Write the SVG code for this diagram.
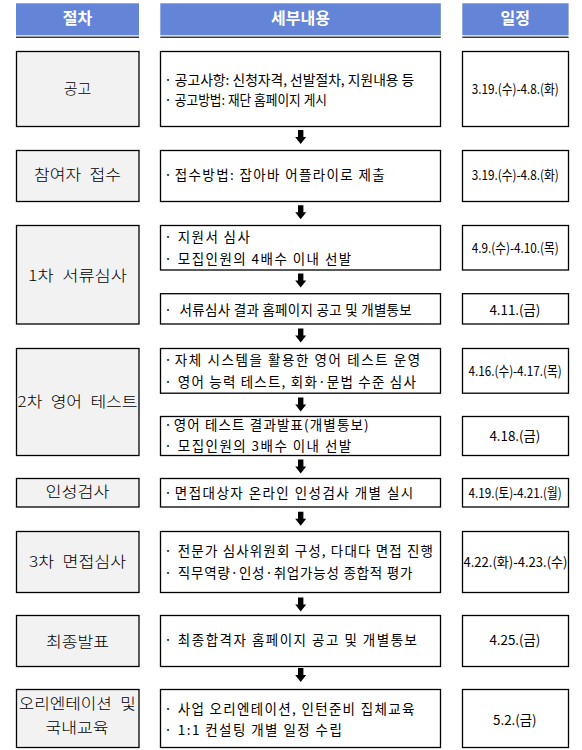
<svg xmlns="http://www.w3.org/2000/svg" xmlns:xlink="http://www.w3.org/1999/xlink" width="582" height="750" viewBox="0 0 582 750">
<style>
.hd{fill:#6484d8}
.hl{stroke:#3a3a3a;stroke-width:1.5}
.ht{font-family:"Noto Sans CJK KR","Noto Sans",sans-serif;font-size:16px;font-weight:700;fill:#fff;text-anchor:middle}
.lb{fill:#f2f2f2;stroke:#000;stroke-width:1.3}
.bx{fill:#fff;stroke:#000;stroke-width:1.3}
.lt{font-family:"Noto Sans CJK KR","Noto Sans",sans-serif;font-size:15px;font-weight:300;word-spacing:4px;fill:#000;text-anchor:middle}
.mt{font-family:"Noto Sans CJK KR","Noto Sans",sans-serif;font-size:13.5px;fill:#000}
.dot{font-family:"Noto Sans CJK KR","Noto Sans",sans-serif;font-size:13.5px;fill:#000;text-anchor:middle}
.rt{font-family:"Noto Sans CJK KR","Noto Sans",sans-serif;font-size:13.5px;fill:#000;text-anchor:middle}
</style>
<defs>
<path id="arr" d="M-2.7,0 H2.7 V7 H5.5 L0,14 L-5.5,7 H-2.7 Z" fill="#000"/>
</defs>
<rect width="582" height="750" fill="#fff"/>

<g id="header">
<rect class="hd" x="16" y="3.3" width="123" height="32"/>
<rect class="hd" x="160.3" y="3.3" width="280.5" height="32"/>
<rect class="hd" x="462.3" y="3.3" width="106.3" height="32"/>
<line class="hl" x1="16" y1="37.3" x2="139" y2="37.3"/>
<line class="hl" x1="160.3" y1="37.3" x2="440.8" y2="37.3"/>
<line class="hl" x1="462.3" y1="37.3" x2="568.6" y2="37.3"/>
<text class="ht" x="77.5" y="24.4">절차</text>
<text class="ht" x="300.5" y="24.4">세부내용</text>
<text class="ht" x="515.3" y="24.4">일정</text>
</g>

<g id="row-announce">
<rect class="lb" x="16.5" y="51.5" width="122.5" height="75"/>
<rect class="bx" x="160.5" y="51.5" width="280" height="75"/>
<rect class="bx" x="462.5" y="51.5" width="106" height="75"/>
<text class="lt" x="77.5" y="93.7">공고</text>
<text class="dot" x="168.1" y="85.3">·</text>
<text class="mt" x="174.8" y="85.3" textLength="239.5" lengthAdjust="spacingAndGlyphs">공고사항: 신청자격, 선발절차, 지원내용 등</text>
<text class="dot" x="168.1" y="105.3">·</text>
<text class="mt" x="174.8" y="105.3" textLength="152.2" lengthAdjust="spacingAndGlyphs">공고방법: 재단 홈페이지 게시</text>
<text class="rt" x="515.3" y="94.3" textLength="87" lengthAdjust="spacingAndGlyphs">3.19.(수)-4.8.(화)</text>
</g>

<g id="row-apply">
<rect class="lb" x="16.5" y="150.5" width="122.5" height="51"/>
<rect class="bx" x="160.5" y="150.5" width="280" height="51"/>
<rect class="bx" x="462.5" y="150.5" width="106" height="51"/>
<text class="lt" x="77.5" y="180" textLength="87" lengthAdjust="spacingAndGlyphs">참여자 접수</text>
<text class="dot" x="168.1" y="180.3">·</text>
<text class="mt" x="174.8" y="180.3" textLength="209.8" lengthAdjust="spacing">접수방법: 잡아바 어플라이로 제출</text>
<text class="rt" x="515.3" y="180.3" textLength="87" lengthAdjust="spacingAndGlyphs">3.19.(수)-4.8.(화)</text>
</g>

<g id="row-doc">
<rect class="lb" x="16.5" y="225.5" width="122.5" height="98.5"/>
<rect class="bx" x="160.5" y="225.5" width="280" height="44.5"/>
<rect class="bx" x="462.5" y="225.5" width="106" height="44.5"/>
<rect class="bx" x="160.5" y="293.7" width="280" height="30.3"/>
<rect class="bx" x="462.5" y="293.7" width="106" height="30.3"/>
<text class="lt" x="77.5" y="280.7" textLength="99" lengthAdjust="spacingAndGlyphs">1차 서류심사</text>
<text class="dot" x="168.1" y="242">·</text>
<text class="mt" x="177.8" y="242" textLength="72" lengthAdjust="spacing">지원서 심사</text>
<text class="dot" x="168.1" y="263.6">·</text>
<text class="mt" x="177.8" y="263.6" textLength="173.4" lengthAdjust="spacing">모집인원의 4배수 이내 선발</text>
<text class="dot" x="168.1" y="315.3">·</text>
<text class="mt" x="179.6" y="315.3" textLength="232.1" lengthAdjust="spacing">서류심사 결과 홈페이지 공고 및 개별통보</text>
<text class="rt" x="515.3" y="253.3" textLength="87" lengthAdjust="spacingAndGlyphs">4.9.(수)-4.10.(목)</text>
<text class="rt" x="514.9" y="315.3" textLength="51" lengthAdjust="spacingAndGlyphs">4.11.(금)</text>
</g>

<g id="row-english">
<rect class="lb" x="16.5" y="348.5" width="122.5" height="107"/>
<rect class="bx" x="160.5" y="348.5" width="280" height="44.7"/>
<rect class="bx" x="462.5" y="348.5" width="106" height="44.7"/>
<rect class="bx" x="160.5" y="416.5" width="280" height="39"/>
<rect class="bx" x="462.5" y="416.5" width="106" height="39"/>
<text class="lt" x="77.5" y="407.4" textLength="120" lengthAdjust="spacingAndGlyphs">2차 영어 테스트</text>
<text class="dot" x="168.1" y="365.3">·</text>
<text class="mt" x="174.8" y="365.3" textLength="245.4" lengthAdjust="spacing">자체 시스템을 활용한 영어 테스트 운영</text>
<text class="dot" x="168.1" y="387">·</text>
<text class="mt" x="177.8" y="387" textLength="238" lengthAdjust="spacing">영어 능력 테스트, 회화·문법 수준 심사</text>
<text class="dot" x="168.1" y="430.3">·</text>
<text class="mt" x="173.7" y="430.3" textLength="194.9" lengthAdjust="spacing">영어 테스트 결과발표(개별통보)</text>
<text class="dot" x="168.1" y="451.3">·</text>
<text class="mt" x="177.8" y="451.3" textLength="173.4" lengthAdjust="spacing">모집인원의 3배수 이내 선발</text>
<text class="rt" x="515.1" y="376.3" textLength="93" lengthAdjust="spacingAndGlyphs">4.16.(수)-4.17.(목)</text>
<text class="rt" x="514.9" y="441.3" textLength="51" lengthAdjust="spacingAndGlyphs">4.18.(금)</text>
</g>

<g id="row-personality">
<rect class="lb" x="16.5" y="478.5" width="122.5" height="28.5"/>
<rect class="bx" x="160.5" y="478.5" width="280" height="28.5"/>
<rect class="bx" x="462.5" y="478.5" width="106" height="28.5"/>
<text class="lt" x="77.5" y="497.4" textLength="64" lengthAdjust="spacingAndGlyphs">인성검사</text>
<text class="dot" x="168.1" y="498">·</text>
<text class="mt" x="174.8" y="498" textLength="238.4" lengthAdjust="spacing">면접대상자 온라인 인성검사 개별 실시</text>
<text class="rt" x="515.1" y="498" textLength="93" lengthAdjust="spacingAndGlyphs">4.19.(토)-4.21.(월)</text>
</g>

<g id="row-interview">
<rect class="lb" x="16.5" y="531.5" width="122.5" height="61"/>
<rect class="bx" x="160.5" y="531.5" width="280" height="61"/>
<rect class="bx" x="462.5" y="531.5" width="106" height="61"/>
<text class="lt" x="77.5" y="566.5" textLength="97" lengthAdjust="spacingAndGlyphs">3차 면접심사</text>
<text class="dot" x="168.1" y="556">·</text>
<text class="mt" x="177.8" y="556" textLength="255.2" lengthAdjust="spacing">전문가 심사위원회 구성, 다대다 면접 진행</text>
<text class="dot" x="168.1" y="578">·</text>
<text class="mt" x="177.8" y="578" textLength="234.6" lengthAdjust="spacing">직무역량·인성·취업가능성 종합적 평가</text>
<text class="rt" x="515.5" y="567" textLength="104" lengthAdjust="spacingAndGlyphs">4.22.(화)-4.23.(수)</text>
</g>

<g id="row-final">
<rect class="lb" x="16.5" y="615.5" width="122.5" height="51"/>
<rect class="bx" x="160.5" y="615.5" width="280" height="51"/>
<rect class="bx" x="462.5" y="615.5" width="106" height="51"/>
<text class="lt" x="77.5" y="646.7" textLength="63" lengthAdjust="spacingAndGlyphs">최종발표</text>
<text class="dot" x="168.1" y="645.3">·</text>
<text class="mt" x="177.8" y="645.3" textLength="239.2" lengthAdjust="spacing">최종합격자 홈페이지 공고 및 개별통보</text>
<text class="rt" x="514.9" y="645.3" textLength="51" lengthAdjust="spacingAndGlyphs">4.25.(금)</text>
</g>

<g id="row-orientation">
<rect class="lb" x="16.5" y="689.5" width="122.5" height="58"/>
<rect class="bx" x="160.5" y="689.5" width="280" height="58"/>
<rect class="bx" x="462.5" y="689.5" width="106" height="58"/>
<text class="lt" x="77.2" y="708.7" textLength="117" lengthAdjust="spacingAndGlyphs">오리엔테이션 및</text>
<text class="lt" x="77" y="733.2" textLength="63" lengthAdjust="spacingAndGlyphs">국내교육</text>
<text class="dot" x="168.1" y="713.6">·</text>
<text class="mt" x="177.8" y="713.6" textLength="236.5" lengthAdjust="spacing">사업 오리엔테이션, 인턴준비 집체교육</text>
<text class="dot" x="168.1" y="735.3">·</text>
<text class="mt" x="177.8" y="735.3" textLength="164" lengthAdjust="spacing">1:1 컨설팅 개별 일정 수립</text>
<text class="rt" x="514.8" y="725.3" textLength="43.6" lengthAdjust="spacingAndGlyphs">5.2.(금)</text>
</g>

<g id="connectors">
<use xlink:href="#arr" href="#arr" x="300.7" y="130"/>
<use xlink:href="#arr" href="#arr" x="300.7" y="205.3"/>
<use xlink:href="#arr" href="#arr" x="300.7" y="273.6"/>
<use xlink:href="#arr" href="#arr" x="300.7" y="328.5"/>
<use xlink:href="#arr" href="#arr" x="300.7" y="397.5"/>
<use xlink:href="#arr" href="#arr" x="300.7" y="459.5"/>
<use xlink:href="#arr" href="#arr" x="300.7" y="511.7"/>
<use xlink:href="#arr" href="#arr" x="300.7" y="597.5"/>
<use xlink:href="#arr" href="#arr" x="300.7" y="668"/>
</g>
</svg>
